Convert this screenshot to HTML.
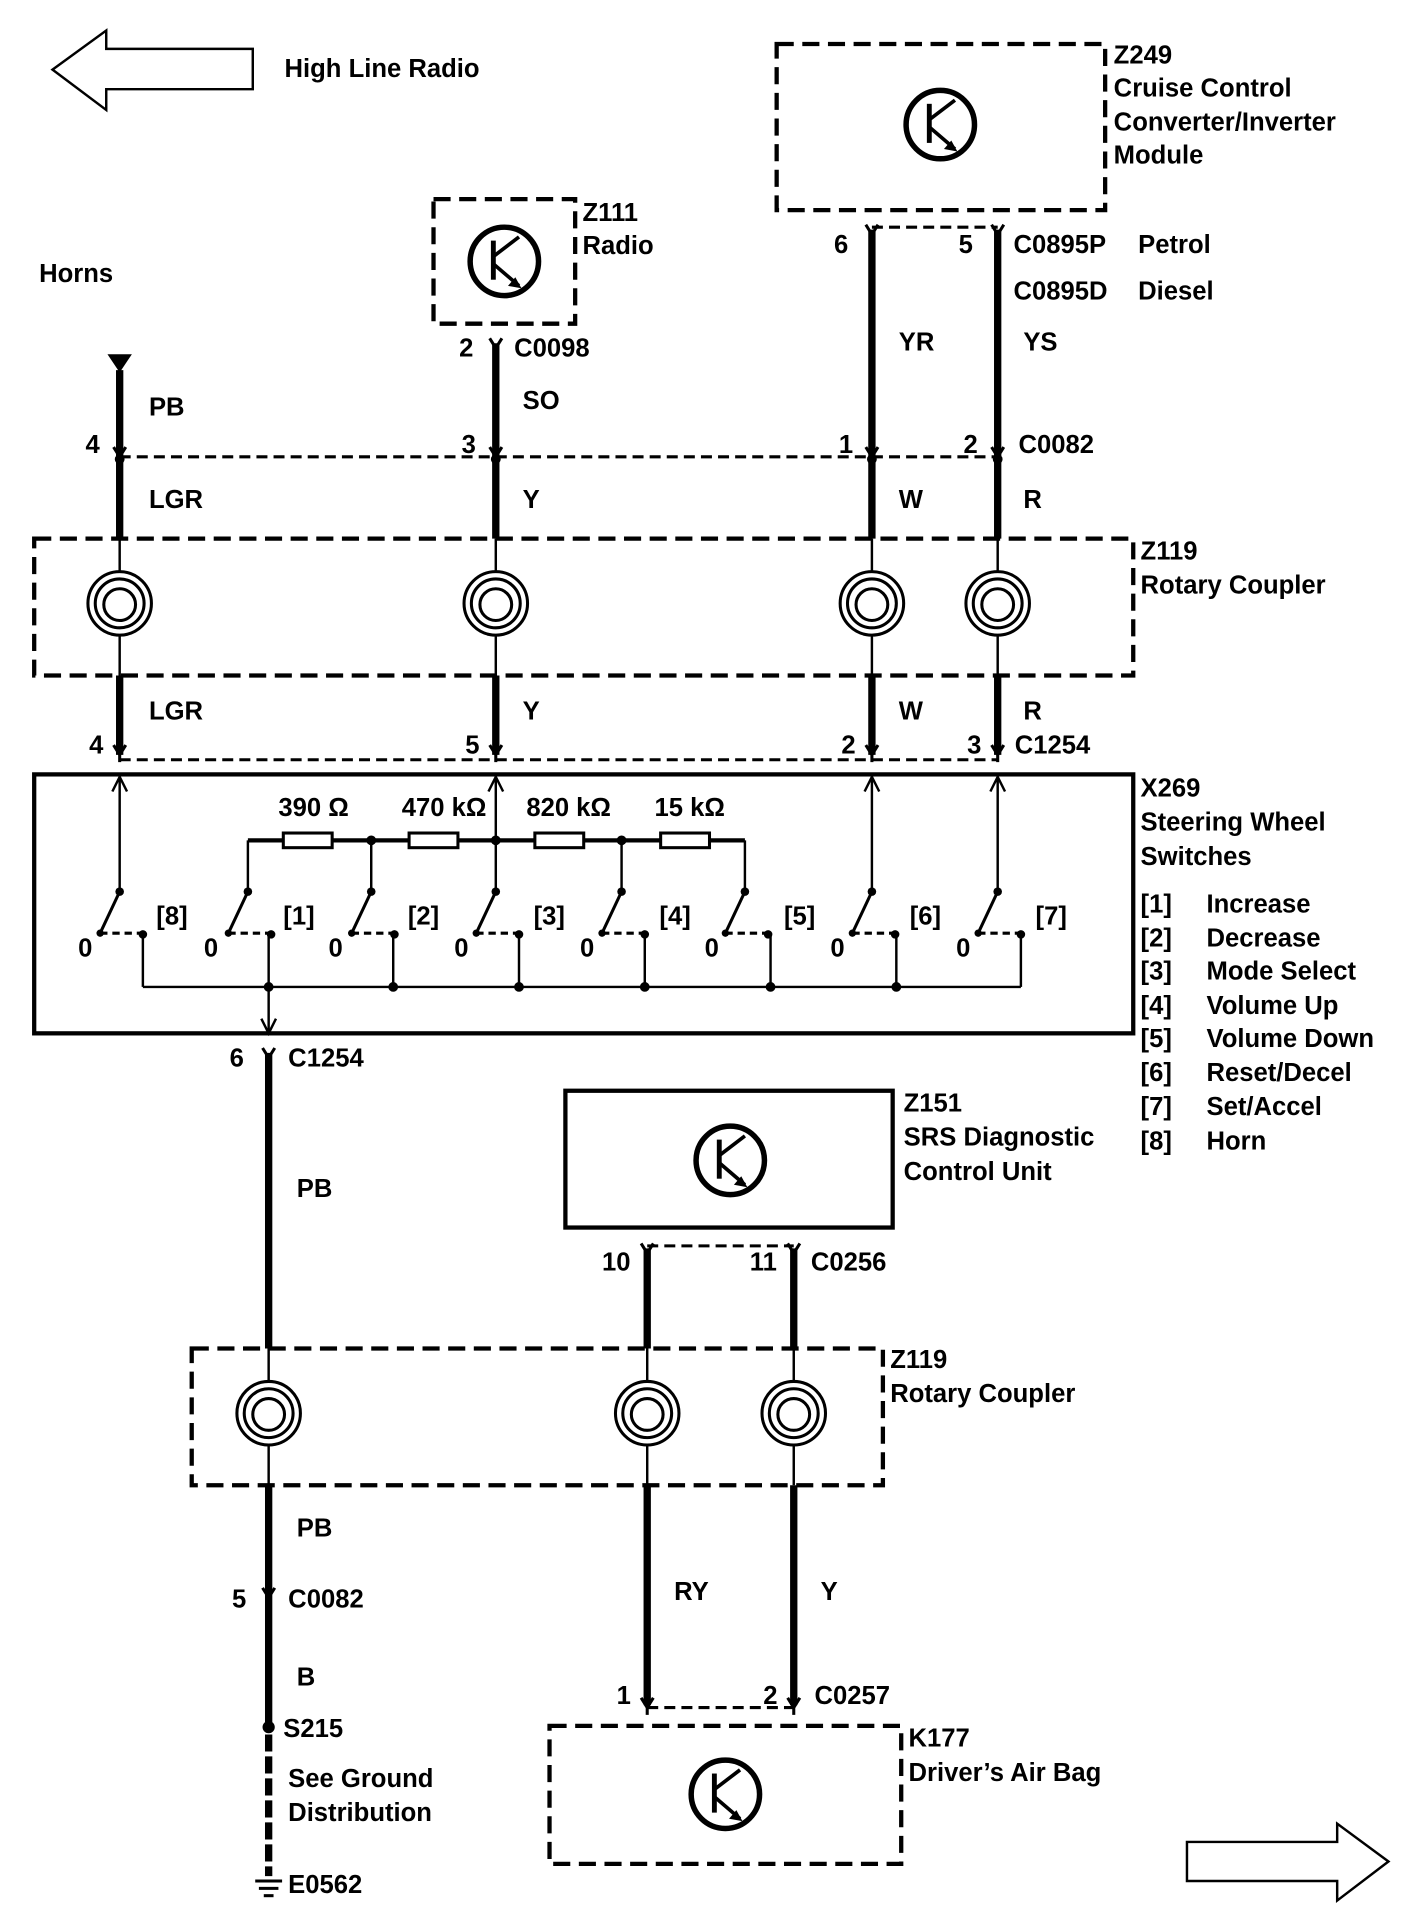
<!DOCTYPE html>
<html><head><meta charset="utf-8"><style>
html,body{margin:0;padding:0;background:#fff;}
svg{display:block;}
text{font-family:"Liberation Sans",Arial,sans-serif;font-weight:bold;font-size:21px;fill:#000;}
</style></head><body>
<svg width="1408" height="1914" viewBox="0 0 1153 1567" preserveAspectRatio="none" xmlns="http://www.w3.org/2000/svg">
<defs>
<g id="tr">
<circle cx="0" cy="0" r="28" fill="none" stroke="#000" stroke-width="4.5"/>
<line x1="-9" y1="-17" x2="-9" y2="15" stroke="#000" stroke-width="4"/>
<line x1="-9" y1="-4" x2="12" y2="-20" stroke="#000" stroke-width="3"/>
<line x1="-9" y1="2" x2="12" y2="20" stroke="#000" stroke-width="3"/>
<polygon points="14,22 3,20 9,13" fill="#000"/>
</g>
<g id="coil">
<circle cx="0" cy="0" r="26" fill="#fff" stroke="#000" stroke-width="2.5"/>
<circle cx="0" cy="0" r="20" fill="none" stroke="#000" stroke-width="2.5"/>
<circle cx="0" cy="1" r="13" fill="none" stroke="#000" stroke-width="2.5"/>
</g>
<g id="fork"><path d="M-5,-8 L0,0 L5,-8 M0,0 L0,6" fill="none" stroke="#000" stroke-width="2.5"/></g>
<g id="sw">
<circle cx="0" cy="0" r="3.5" fill="#000"/>
<line x1="0" y1="0" x2="-16" y2="34" stroke="#000" stroke-width="2.5"/>
<line x1="-16" y1="34" x2="18" y2="34" stroke="#000" stroke-width="2.5" stroke-dasharray="6,4"/>
<circle cx="19" cy="35" r="3.5" fill="#000"/>
<circle cx="-16" cy="34" r="3" fill="#000"/>
</g>
</defs>
<g fill="none" stroke="#000">
<polygon points="43,57 87,25 87,40 207,40 207,73 87,73 87,90" stroke-width="2"/>
<polygon points="1137,1524 1095,1493 1095,1508 972,1508 972,1540 1095,1540 1095,1556" stroke-width="2"/>
<rect x="636" y="36" width="269" height="136" stroke-width="3.5" stroke-dasharray="14,7"/>
<rect x="355" y="163" width="116" height="102" stroke-width="3.5" stroke-dasharray="14,7"/>
<rect x="28" y="441" width="900" height="112" stroke-width="3.5" stroke-dasharray="14,7"/>
<rect x="157" y="1104" width="566" height="112" stroke-width="3.5" stroke-dasharray="14,7"/>
<rect x="450" y="1413" width="288" height="113" stroke-width="3.5" stroke-dasharray="14,7"/>
<rect x="28" y="634" width="900" height="212" stroke-width="3.5"/>
<rect x="463" y="893" width="268" height="112" stroke-width="3.5"/>
<g stroke-width="6">
<line x1="98" y1="303" x2="98" y2="441"/>
<line x1="406" y1="281" x2="406" y2="441"/>
<line x1="714" y1="188" x2="714" y2="441"/>
<line x1="817" y1="188" x2="817" y2="441"/>
<line x1="98" y1="553" x2="98" y2="618"/>
<line x1="406" y1="553" x2="406" y2="618"/>
<line x1="714" y1="553" x2="714" y2="618"/>
<line x1="817" y1="553" x2="817" y2="618"/>
<line x1="220" y1="862" x2="220" y2="1104"/>
<line x1="530" y1="1022" x2="530" y2="1104"/>
<line x1="650" y1="1022" x2="650" y2="1104"/>
<line x1="220" y1="1216" x2="220" y2="1410"/>
<line x1="530" y1="1216" x2="530" y2="1396"/>
<line x1="650" y1="1216" x2="650" y2="1396"/>
<line x1="220" y1="1420" x2="220" y2="1536" stroke-dasharray="14,4"/>
</g>
<g stroke-width="2.5" stroke-dasharray="9,5">
<line x1="98" y1="374" x2="817" y2="374"/>
<line x1="714" y1="186" x2="817" y2="186"/>
<line x1="98" y1="622" x2="817" y2="622"/>
<line x1="530" y1="1020" x2="650" y2="1020"/>
<line x1="530" y1="1398" x2="650" y2="1398"/>
</g>
<g stroke-width="2">
<line x1="98" y1="441" x2="98" y2="553"/><line x1="406" y1="441" x2="406" y2="553"/>
<line x1="714" y1="441" x2="714" y2="553"/><line x1="817" y1="441" x2="817" y2="553"/>
<line x1="220" y1="1104" x2="220" y2="1216"/><line x1="530" y1="1104" x2="530" y2="1216"/><line x1="650" y1="1104" x2="650" y2="1216"/>
</g>
<g stroke-width="2">
<line x1="98" y1="636" x2="98" y2="730"/><line x1="406" y1="636" x2="406" y2="730"/>
<line x1="714" y1="636" x2="714" y2="730"/><line x1="817" y1="636" x2="817" y2="730"/>
<path d="M92,648 L98,636 L104,648 M400,648 L406,636 L412,648 M708,648 L714,636 L720,648 M811,648 L817,636 L823,648"/>
<line x1="203" y1="688" x2="203" y2="730"/><line x1="304" y1="688" x2="304" y2="730"/>
<line x1="509" y1="688" x2="509" y2="730"/><line x1="610" y1="688" x2="610" y2="730"/>
<line x1="117" y1="765" x2="117" y2="808"/><line x1="220" y1="765" x2="220" y2="846"/>
<line x1="322" y1="765" x2="322" y2="808"/><line x1="425" y1="765" x2="425" y2="808"/>
<line x1="528" y1="765" x2="528" y2="808"/><line x1="631" y1="765" x2="631" y2="808"/>
<line x1="734" y1="765" x2="734" y2="808"/><line x1="836" y1="765" x2="836" y2="808"/>
<line x1="117" y1="808" x2="836" y2="808"/>
<path d="M214,834 L220,846 L226,834"/>
</g>
<line x1="203" y1="688" x2="610" y2="688" stroke-width="3.5"/>
</g>
<g fill="#fff" stroke="#000" stroke-width="2.5">
<rect x="232" y="682" width="40" height="12"/><rect x="335" y="682" width="40" height="12"/>
<rect x="438" y="682" width="40" height="12"/><rect x="541" y="682" width="40" height="12"/>
</g>
<g fill="#000">
<circle cx="304" cy="688" r="4"/><circle cx="406" cy="688" r="4"/><circle cx="509" cy="688" r="4"/>
<circle cx="220" cy="808" r="4"/><circle cx="322" cy="808" r="4"/><circle cx="425" cy="808" r="4"/>
<circle cx="528" cy="808" r="4"/><circle cx="631" cy="808" r="4"/><circle cx="734" cy="808" r="4"/>
<circle cx="220" cy="1414" r="5"/>
<polygon points="88,290 108,290 98,305"/>
<circle cx="98" cy="376" r="4"/><circle cx="406" cy="376" r="4"/><circle cx="714" cy="376" r="4"/><circle cx="817" cy="376" r="4"/>
</g>
<use href="#sw" x="98" y="730"/><use href="#sw" x="203" y="730"/><use href="#sw" x="304" y="730"/><use href="#sw" x="406" y="730"/>
<use href="#sw" x="509" y="730"/><use href="#sw" x="610" y="730"/><use href="#sw" x="714" y="730"/><use href="#sw" x="817" y="730"/>
<use href="#fork" x="406" y="285"/><use href="#fork" x="714" y="192"/><use href="#fork" x="817" y="192"/>
<use href="#fork" x="98" y="374"/><use href="#fork" x="406" y="374"/><use href="#fork" x="714" y="374"/><use href="#fork" x="817" y="374"/>
<use href="#fork" x="98" y="618"/><use href="#fork" x="406" y="618"/><use href="#fork" x="714" y="618"/><use href="#fork" x="817" y="618"/>
<use href="#fork" x="220" y="866"/><use href="#fork" x="530" y="1026"/><use href="#fork" x="650" y="1026"/>
<use href="#fork" x="220" y="1308"/><use href="#fork" x="530" y="1398"/><use href="#fork" x="650" y="1398"/>
<g stroke="#000" stroke-width="2.5"><line x1="209" y1="1540" x2="231" y2="1540"/><line x1="212" y1="1546" x2="228" y2="1546"/><line x1="216" y1="1552" x2="224" y2="1552"/></g>
<use href="#coil" x="98" y="494"/><use href="#coil" x="406" y="494"/><use href="#coil" x="714" y="494"/><use href="#coil" x="817" y="494"/>
<use href="#coil" x="220" y="1157"/><use href="#coil" x="530" y="1157"/><use href="#coil" x="650" y="1157"/>
<use href="#tr" x="770" y="102"/><use href="#tr" x="413" y="214"/><use href="#tr" x="598" y="950"/><use href="#tr" x="594" y="1469"/>
<text x="233" y="63">High Line Radio</text>
<text x="912" y="52">Z249</text><text x="912" y="79">Cruise Control</text><text x="912" y="107">Converter/Inverter</text><text x="912" y="134">Module</text>
<text x="477" y="181">Z111</text><text x="477" y="208">Radio</text>
<text x="32" y="231">Horns</text>
<text x="683" y="207">6</text><text x="785" y="207">5</text><text x="830" y="207">C0895P</text><text x="932" y="207">Petrol</text>
<text x="830" y="245">C0895D</text><text x="932" y="245">Diesel</text>
<text x="736" y="287">YR</text><text x="838" y="287">YS</text>
<text x="376" y="292">2</text><text x="421" y="292">C0098</text>
<text x="122" y="340">PB</text><text x="428" y="335">SO</text>
<text x="70" y="371">4</text><text x="378" y="371">3</text><text x="687" y="371">1</text><text x="789" y="371">2</text><text x="834" y="371">C0082</text>
<text x="122" y="416">LGR</text><text x="428" y="416">Y</text><text x="736" y="416">W</text><text x="838" y="416">R</text>
<text x="934" y="458">Z119</text><text x="934" y="486">Rotary Coupler</text>
<text x="122" y="589">LGR</text><text x="428" y="589">Y</text><text x="736" y="589">W</text><text x="838" y="589">R</text>
<text x="73" y="617">4</text><text x="381" y="617">5</text><text x="689" y="617">2</text><text x="792" y="617">3</text><text x="831" y="617">C1254</text>
<text x="934" y="652">X269</text><text x="934" y="680">Steering Wheel</text><text x="934" y="708">Switches</text>
<text x="228" y="668">390 Ω</text><text x="329" y="668">470 kΩ</text><text x="431" y="668">820 kΩ</text><text x="536" y="668">15 kΩ</text>
<g font-weight="normal"><text x="128" y="757">[8]</text><text x="232" y="757">[1]</text><text x="334" y="757">[2]</text><text x="437" y="757">[3]</text><text x="540" y="757">[4]</text><text x="642" y="757">[5]</text><text x="745" y="757">[6]</text><text x="848" y="757">[7]</text>
<text x="64" y="783">0</text><text x="167" y="783">0</text><text x="269" y="783">0</text><text x="372" y="783">0</text><text x="475" y="783">0</text><text x="577" y="783">0</text><text x="680" y="783">0</text><text x="783" y="783">0</text></g>
<text x="934" y="747">[1]</text><text x="988" y="747">Increase</text>
<text x="934" y="775">[2]</text><text x="988" y="775">Decrease</text>
<text x="934" y="802">[3]</text><text x="988" y="802">Mode Select</text>
<text x="934" y="830">[4]</text><text x="988" y="830">Volume Up</text>
<text x="934" y="857">[5]</text><text x="988" y="857">Volume Down</text>
<text x="934" y="885">[6]</text><text x="988" y="885">Reset/Decel</text>
<text x="934" y="913">[7]</text><text x="988" y="913">Set/Accel</text>
<text x="934" y="941">[8]</text><text x="988" y="941">Horn</text>
<text x="188" y="873">6</text><text x="236" y="873">C1254</text>
<text x="243" y="980">PB</text>
<text x="740" y="910">Z151</text><text x="740" y="938">SRS Diagnostic</text><text x="740" y="966">Control Unit</text>
<text x="493" y="1040">10</text><text x="614" y="1040">11</text><text x="664" y="1040">C0256</text>
<text x="729" y="1120">Z119</text><text x="729" y="1148">Rotary Coupler</text>
<text x="243" y="1258">PB</text>
<text x="190" y="1316">5</text><text x="236" y="1316">C0082</text>
<text x="552" y="1310">RY</text><text x="672" y="1310">Y</text>
<text x="243" y="1380">B</text>
<text x="505" y="1395">1</text><text x="625" y="1395">2</text><text x="667" y="1395">C0257</text>
<text x="232" y="1422">S215</text>
<text x="744" y="1430">K177</text><text x="744" y="1458">Driver’s Air Bag</text>
<text x="236" y="1463">See Ground</text><text x="236" y="1491">Distribution</text>
<text x="236" y="1550">E0562</text>
</svg>
</body></html>
